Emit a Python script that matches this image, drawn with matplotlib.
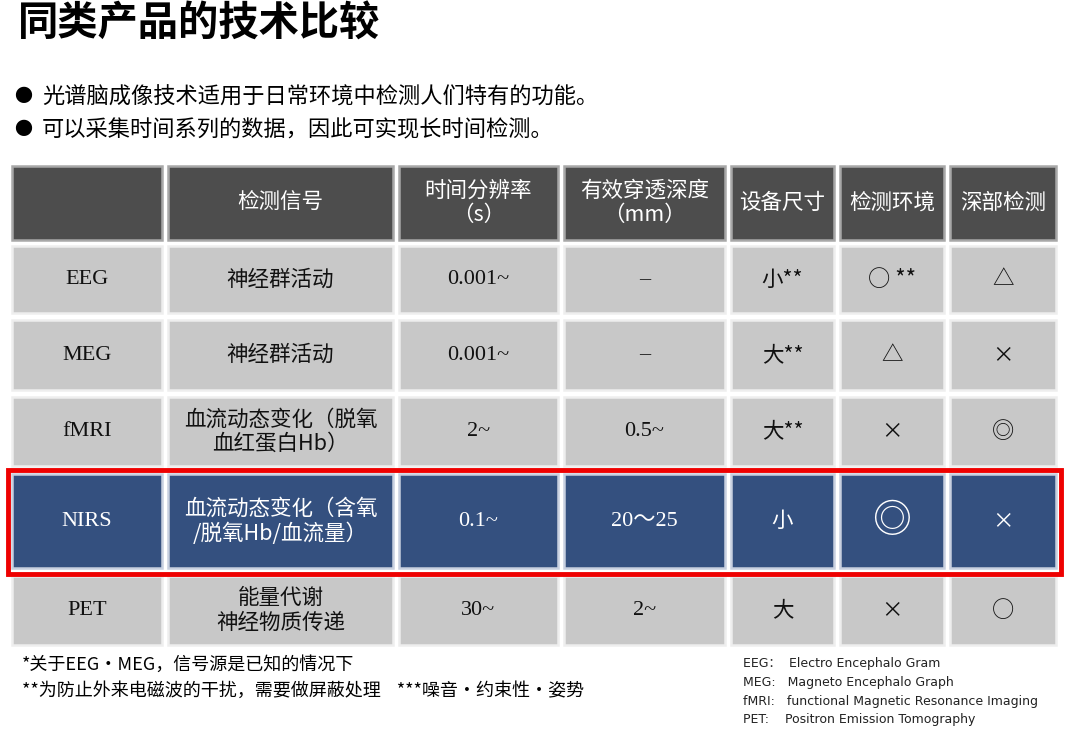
import matplotlib.pyplot as plt
from matplotlib.patches import Rectangle

CJK = 'Noto Sans CJK SC'
SERIF = ['Liberation Serif', 'Noto Sans CJK SC']
SANS = ['DejaVu Sans', 'Noto Sans CJK SC']

title = '同类产品的技术比较'
bullets = ['光谱脑成像技术适用于日常环境中检测人们特有的功能。',
           '可以采集时间系列的数据，因此可实现长时间检测。']

headers = ['', '检测信号', '时间分辨率\n（s）', '有效穿透深度\n（mm）', '设备尺寸', '检测环境', '深部检测']
methods = ['EEG', 'MEG', 'fMRI', 'NIRS', 'PET']
signals = ['神经群活动', '神经群活动', '血流动态变化（脱氧\n血红蛋白Hb）',
           '血流动态变化（含氧\n/脱氧Hb/血流量）', '能量代谢\n神经物质传递']
time_res = ['0.001~', '0.001~', '2~', '0.1~', '30~']
depth = ['–', '–', '0.5~', '20〜25', '2~']
size = ['小**', '大**', '大**', '小', '大']
environment = ['○ **', '△', '×', '◎', '×']
deep = ['△', '×', '◎', '×', '○']

notes_left = ['*关于EEG·MEG，信号源是已知的情况下',
              '**为防止外来电磁波的干扰，需要做屏蔽处理    ***噪音·约束性·姿势']
notes_right = ['EEG：  Electro Encephalo Gram', 'MEG:   Magneto Encephalo Graph',
               'fMRI:   functional Magnetic Resonance Imaging', 'PET:    Positron Emission Tomography']

# layout (pixels)
col_x = [(12, 162), (168, 393), (399, 558), (564, 725), (731, 834), (840, 944), (950, 1056)]
row_y = [(166, 240), (246, 313), (320, 390), (397, 466), (474, 568), (576, 645)]
highlight = 'NIRS'

fig = plt.figure(figsize=(10.68, 7.36), dpi=100)
ax = fig.add_axes([0, 0, 1, 1])
ax.set_xlim(0, 1068)
ax.set_ylim(736, 0)
ax.axis('off')

ax.text(18, 24, title, fontsize=29, fontfamily=CJK, fontweight='bold', va='center', ha='left')
for i, b in enumerate(bullets):
    y = 97 + i * 33
    ax.text(14, y, '●', fontsize=13, fontfamily=CJK, va='center')
    ax.text(42, y, b, fontsize=16, fontfamily=CJK, va='center')


def cell(c, r, text, fill, edge, color, family, fs=15):
    x0, x1 = col_x[c]
    y0, y1 = row_y[r]
    ax.add_patch(Rectangle((x0, y0), x1 - x0, y1 - y0, facecolor=fill, edgecolor=edge, lw=1.8))
    ax.text((x0 + x1) / 2, (y0 + y1) / 2, text, ha='center', va='center', color=color,
            fontsize=fs, fontfamily=family, linespacing=1.15)


for c, h in enumerate(headers):
    cell(c, 0, h, '#4d4d4d', '#a8a8a8', 'white', CJK, 15.5)

for r, m in enumerate(methods):
    hl = m == highlight
    fill = '#34507f' if hl else '#c8c8c8'
    edge = '#c8d0e0' if hl else '#eeeeee'
    fc = 'white' if hl else '#111111'
    row = [m, signals[r], time_res[r], depth[r], size[r], environment[r], deep[r]]
    fams = [SERIF, CJK, SERIF, SERIF, CJK, CJK, CJK]
    for c, t in enumerate(row):
        fs = 16 if fams[c] is SERIF else 15.5
        if c >= 5 and t == '◎' and hl:
            fs = 28
        elif c >= 5 and t in ('◎', '○', '○ **'):
            fs = 16
        cell(c, r + 1, t, fill, edge, fc, fams[c], fs)

r0, r1 = row_y[methods.index(highlight) + 1]
ax.add_patch(Rectangle((8, r0 - 4), 1053, r1 - r0 + 10, fill=False, edgecolor='#ee0000', lw=3.5))

for i, t in enumerate(notes_left):
    ax.text(22, 665 + i * 26, t, fontsize=13, fontfamily=CJK, va='center')
for i, t in enumerate(notes_right):
    ax.text(743, 664 + i * 18.5, t, fontsize=9, fontfamily=SANS, va='center', color='#222222')

fig.savefig('out.png', dpi=100)
